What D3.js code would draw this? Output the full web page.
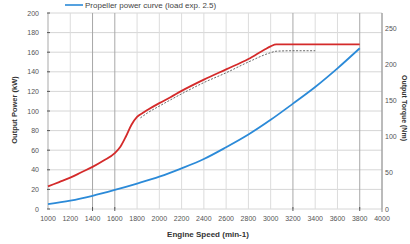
<!DOCTYPE html>
<html>
<head>
<meta charset="utf-8">
<script src="https://cdn.jsdelivr.net/npm/d3@7"></script>
<style>
  html, body { margin: 0; padding: 0; background: #fff; }
  svg { display: block; font-family: "Liberation Sans", Arial, sans-serif; }
</style>
</head>
<body>
<svg id="chart" width="410" height="244"></svg>
<script>
// Engine speed ticks
const speedTicks = [1000, 1200, 1400, 1600, 1800, 2000, 2200, 2400, 2600, 2800, 3000, 3200, 3400, 3600, 3800, 4000];
const powerTicks = [0, 20, 40, 60, 80, 100, 120, 140, 160, 180, 200];
const torqueTicks = [0, 50, 100, 150, 200, 250];

// Output power curve (red)
const powerRpm = [1000, 1100, 1200, 1300, 1400, 1500, 1600, 1650, 1700, 1750, 1800, 1850, 1900, 2000, 2100, 2200, 2400, 2600, 2800, 2950, 3000, 3050, 3200, 3400, 3600, 3800];
const powerKw  = [23, 27.5, 32, 37.5, 43, 49.5, 57, 63.5, 74, 86, 94, 98, 101.5, 108, 114, 120.5, 132, 142.5, 153, 163, 166, 168, 168, 168, 168, 168];

// Dotted reference curve (black)
const refRpm = [1830, 1900, 2000, 2200, 2400, 2600, 2800, 3000, 3050, 3200, 3400];
const refKw  = [93, 98.5, 105, 117.5, 129, 139, 150, 159.5, 161, 161.5, 161.5];

// Propeller power curve (blue)
const propRpm = [1000, 1200, 1400, 1600, 1800, 2000, 2200, 2400, 2600, 2800, 3000, 3200, 3400, 3600, 3800];
const propKw  = [5, 8.5, 13.5, 19.5, 26, 33, 41.5, 51, 63, 76, 91, 107.5, 124.5, 143.5, 164];

const svg = d3.select("#chart");
const plotLeft = 48, plotRight = 382, plotTop = 13, plotBottom = 209;

const x = d3.scaleLinear().domain([1000, 4000]).range([plotLeft, plotRight]);
const yL = d3.scaleLinear().domain([0, 200]).range([plotBottom, plotTop]);
const yR = d3.scaleLinear().domain([0, 272]).range([plotBottom, plotTop]);

// darker grid lines on a few speeds
const darkSpeeds = [1400, 1600, 3200, 3800];

// horizontal grid
svg.append("g").selectAll("line")
    .data(powerTicks)
    .join("line")
    .attr("x1", plotLeft).attr("x2", plotRight)
    .attr("y1", d => yL(d)).attr("y2", d => yL(d))
    .attr("stroke", "#d6d6d6").attr("stroke-width", 1);

// vertical grid
svg.append("g").selectAll("line")
    .data(speedTicks)
    .join("line")
    .attr("x1", d => x(d)).attr("x2", d => x(d))
    .attr("y1", plotTop).attr("y2", plotBottom)
    .attr("stroke", d => darkSpeeds.includes(d) ? "#a8a8a8" : "#dcdcdc")
    .attr("stroke-width", 1);

// left and right axis lines
svg.append("line")
    .attr("x1", plotLeft).attr("x2", plotLeft).attr("y1", plotTop).attr("y2", plotBottom)
    .attr("stroke", "#bbb");
svg.append("line")
    .attr("x1", plotRight).attr("x2", plotRight).attr("y1", plotTop).attr("y2", plotBottom + 3)
    .attr("stroke", "#888");

// small tick marks
svg.append("g").selectAll("line")
    .data(powerTicks)
    .join("line")
    .attr("x1", plotLeft - 1).attr("x2", plotLeft + 2)
    .attr("y1", d => yL(d)).attr("y2", d => yL(d))
    .attr("stroke", "#555");
svg.append("g").selectAll("line")
    .data(darkSpeeds)
    .join("line")
    .attr("x1", d => x(d)).attr("x2", d => x(d))
    .attr("y1", plotBottom - 2).attr("y2", plotBottom + 2)
    .attr("stroke", "#555");

// tick labels
svg.append("g").selectAll("text")
    .data(powerTicks)
    .join("text")
    .attr("x", 39).attr("y", d => yL(d) + 2.5)
    .attr("text-anchor", "end")
    .attr("font-size", 7).attr("fill", "#555")
    .text(d => d);

svg.append("g").selectAll("text")
    .data(torqueTicks)
    .join("text")
    .attr("x", 385).attr("y", d => yR(d) + 2.5)
    .attr("text-anchor", "start")
    .attr("font-size", 7).attr("fill", "#555")
    .text(d => d);

svg.append("g").selectAll("text")
    .data(speedTicks)
    .join("text")
    .attr("x", d => x(d)).attr("y", 221)
    .attr("text-anchor", "middle")
    .attr("font-size", 7).attr("fill", "#555")
    .text(d => d);

// axis titles
svg.append("text")
    .attr("transform", "translate(17,110) rotate(-90)")
    .attr("text-anchor", "middle")
    .attr("font-size", 7.5).attr("font-weight", "bold").attr("fill", "#333")
    .text("Output Power (kW)");

svg.append("text")
    .attr("transform", "translate(402,108) rotate(90)")
    .attr("text-anchor", "middle")
    .attr("font-size", 7).attr("font-weight", "bold").attr("fill", "#333")
    .text("Output Torque (Nm)");

svg.append("text")
    .attr("x", 208).attr("y", 237)
    .attr("text-anchor", "middle")
    .attr("font-size", 8).attr("font-weight", "bold").attr("fill", "#333")
    .text("Engine Speed (min-1)");

// curves
const line = d3.line()
    .x(d => x(d[0]))
    .y(d => yL(d[1]))
    .curve(d3.curveMonotoneX);

svg.append("path")
    .datum(refRpm.map((r, i) => [r, refKw[i]]))
    .attr("d", line)
    .attr("fill", "none")
    .attr("stroke", "#444")
    .attr("stroke-width", 0.8)
    .attr("stroke-dasharray", "2,1.5");

svg.append("path")
    .datum(powerRpm.map((r, i) => [r, powerKw[i]]))
    .attr("d", line)
    .attr("fill", "none")
    .attr("stroke", "#d42a2a")
    .attr("stroke-width", 1.8);

svg.append("path")
    .datum(propRpm.map((r, i) => [r, propKw[i]]))
    .attr("d", line)
    .attr("fill", "none")
    .attr("stroke", "#2b8ad8")
    .attr("stroke-width", 1.8);

// legend
svg.append("line")
    .attr("x1", 65).attr("x2", 83).attr("y1", 5).attr("y2", 5)
    .attr("stroke", "#2b8ad8").attr("stroke-width", 1.6);
svg.append("text")
    .attr("x", 85).attr("y", 7.5)
    .attr("font-size", 8).attr("fill", "#444")
    .text("Propeller power curve (load exp. 2.5)");
</script>
</body>
</html>
